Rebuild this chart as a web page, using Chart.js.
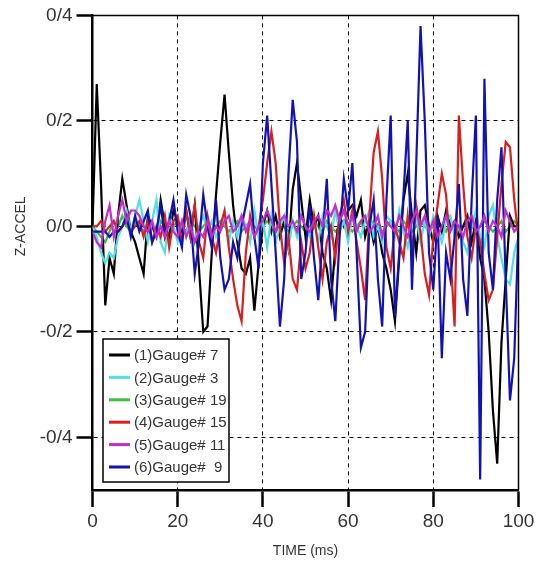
<!DOCTYPE html>
<html><head><meta charset="utf-8">
<script src="https://cdn.jsdelivr.net/npm/chart.js@4/dist/chart.umd.min.js"></script>
<style>html,body{margin:0;padding:0;background:#fff;} #wrap{width:544px;height:564px;}</style>
</head><body><div id="wrap"><canvas id="c" width="544" height="564"></canvas></div>
<script>
const TIME_MS = [0,1,2,3,4,5,6,7,8,9,10,11,12,13,14,15,16,17,18,19,20,21,22,23,24,25,26,27,28,29,30,31,32,33,34,35,36,37,38,39,40,41,42,43,44,45,46,47,48,49,50,51,52,53,54,55,56,57,58,59,60,61,62,63,64,65,66,67,68,69,70,71,72,73,74,75,76,77,78,79,80,81,82,83,84,85,86,87,88,89,90,91,92,93,94,95,96,97,98,99,100];

const SERIES_LABELS = ['(1)Gauge# 7', '(2)Gauge# 3', '(3)Gauge# 19', '(4)Gauge# 15', '(5)Gauge# 11', '(6)Gauge#  9'];

const GAUGE_7 = [0.00,0.27,0.08,-0.15,-0.06,-0.09,0.02,0.09,0.04,-0.01,-0.03,-0.06,-0.09,0.02,0.00,-0.02,0.05,0.00,-0.02,0.03,0.01,-0.01,0.03,-0.02,0.04,-0.08,-0.20,-0.19,-0.05,0.06,0.16,0.25,0.14,0.04,-0.03,-0.08,-0.09,-0.06,-0.16,-0.07,0.00,0.03,-0.01,0.02,-0.02,0.01,-0.04,0.07,0.12,0.05,-0.02,0.05,0.00,0.02,-0.05,-0.08,-0.14,-0.04,0.02,0.00,0.03,0.04,0.02,0.05,-0.02,0.01,-0.03,0.00,-0.05,-0.08,-0.12,-0.18,-0.06,0.05,0.10,0.02,-0.05,0.03,0.04,0.00,-0.03,0.02,-0.01,0.03,0.00,0.01,-0.02,0.00,0.02,-0.03,0.01,-0.06,-0.10,-0.20,-0.35,-0.45,-0.22,-0.10,0.02,0.00,0.00];

const GAUGE_3 = [0.00,-0.02,-0.05,-0.07,-0.05,-0.06,-0.02,0.00,0.03,-0.01,0.02,0.05,0.01,-0.03,0.01,0.05,-0.03,-0.05,0.02,0.00,-0.03,0.01,-0.02,0.02,-0.03,0.00,0.02,-0.01,0.01,-0.02,0.00,0.02,-0.03,0.01,-0.02,0.02,0.00,-0.03,0.03,-0.02,0.01,-0.04,0.02,-0.03,0.00,0.02,-0.04,0.01,-0.02,0.02,0.00,-0.02,0.01,-0.03,0.02,0.00,-0.02,0.03,-0.01,0.01,-0.03,0.02,0.00,-0.02,0.01,0.03,-0.02,0.00,-0.03,0.02,0.01,-0.02,0.03,-0.01,-0.04,0.00,0.02,-0.03,0.01,-0.02,0.02,0.00,-0.03,0.01,0.02,-0.02,0.00,-0.03,-0.05,0.00,0.03,-0.02,-0.04,0.02,0.04,-0.02,-0.06,-0.10,-0.11,-0.05,-0.02];

const GAUGE_19 = [0.00,-0.01,-0.02,-0.03,-0.01,0.01,0.00,0.02,0.00,-0.01,0.01,0.00,-0.01,0.01,0.00,-0.01,0.01,0.00,-0.01,0.00,0.01,0.00,-0.01,0.01,0.00,-0.01,0.00,0.01,-0.01,0.00,0.01,0.00,-0.01,0.00,0.01,-0.01,0.00,0.01,0.00,-0.01,0.00,0.01,0.00,-0.01,0.01,0.00,-0.01,0.00,0.01,0.00,-0.01,0.00,0.01,0.00,-0.01,0.01,0.00,-0.01,0.00,0.01,0.00,-0.01,0.00,0.01,-0.01,0.00,0.01,0.00,-0.01,0.00,0.01,0.00,-0.01,0.01,0.00,-0.01,0.00,0.01,0.00,-0.01,0.00,0.01,0.00,-0.01,0.01,0.00,-0.01,0.00,0.01,0.00,-0.01,0.00,0.01,0.00,-0.01,0.00,0.01,-0.01,0.00,0.01,0.00];

const GAUGE_15 = [0.00,0.00,0.01,-0.01,0.00,0.01,-0.01,0.00,0.01,-0.01,0.00,0.01,-0.02,0.01,-0.03,0.00,-0.02,0.02,-0.04,0.01,0.02,-0.03,0.03,-0.02,0.04,-0.03,-0.06,0.02,-0.02,-0.05,0.00,0.03,-0.04,-0.10,-0.15,-0.18,-0.05,0.02,-0.02,0.00,0.05,0.12,0.18,0.12,0.00,-0.07,-0.02,-0.10,-0.12,-0.03,-0.08,-0.05,0.02,-0.04,-0.10,-0.03,0.00,-0.06,0.02,0.05,-0.01,0.03,-0.03,-0.08,-0.14,0.02,0.14,0.18,0.09,-0.04,-0.08,0.00,-0.03,-0.06,0.02,-0.05,0.04,-0.01,-0.09,-0.13,-0.02,0.04,0.10,0.06,-0.05,-0.19,0.21,0.08,-0.02,-0.06,0.00,-0.03,-0.09,-0.14,-0.12,-0.02,0.08,0.16,0.15,0.05,-0.02];

const GAUGE_11 = [-0.01,-0.03,-0.04,0.01,0.04,-0.02,0.02,0.05,0.01,0.03,0.03,0.02,0.00,-0.01,0.01,-0.02,0.00,-0.02,0.01,-0.01,-0.02,0.01,-0.02,0.00,-0.03,-0.01,-0.02,0.01,-0.02,0.00,-0.01,0.01,0.02,-0.01,0.00,0.02,-0.01,0.01,-0.02,0.00,0.01,0.03,0.01,-0.01,0.01,0.02,0.00,0.01,-0.01,0.02,0.00,-0.01,0.01,0.02,0.00,0.03,0.02,0.04,0.01,0.03,0.00,0.02,-0.01,0.01,0.02,-0.01,0.00,0.02,-0.02,0.01,0.00,-0.01,0.02,0.00,-0.02,0.01,0.03,0.00,0.02,-0.01,0.01,-0.02,0.00,0.02,-0.01,0.01,0.00,-0.02,0.01,0.02,-0.01,0.00,0.02,-0.01,0.01,0.00,-0.02,0.03,0.01,-0.01,0.00];

const GAUGE_9 = [-0.01,-0.01,-0.01,-0.01,-0.02,-0.01,-0.01,0.00,0.02,-0.02,0.02,-0.01,0.01,0.03,-0.03,-0.01,0.04,-0.02,0.01,0.05,-0.01,-0.04,0.06,0.02,-0.09,-0.03,0.06,0.00,-0.04,0.05,-0.06,-0.12,-0.10,-0.03,-0.06,0.00,0.04,0.08,-0.02,-0.08,0.12,0.21,0.08,-0.05,-0.19,-0.10,0.10,0.24,0.16,-0.10,-0.05,0.04,-0.06,-0.14,-0.02,0.09,-0.10,-0.18,-0.02,0.09,0.03,0.12,-0.05,-0.23,-0.20,0.00,0.05,-0.10,-0.19,0.05,0.21,-0.17,-0.05,0.06,0.20,-0.12,0.12,0.38,0.20,-0.05,-0.12,0.02,-0.25,-0.05,-0.10,-0.02,0.08,-0.10,-0.17,0.05,0.21,-0.48,0.28,-0.05,-0.12,0.05,0.15,-0.10,-0.33,-0.25,0.00];

const SERIES_VALUES = [GAUGE_7, GAUGE_3, GAUGE_19, GAUGE_15, GAUGE_11, GAUGE_9];
const SERIES_COLORS = ['#000000', '#4fe0e4', '#3cbf3c', '#d81e1e', '#c42ccc', '#1212b4'];
const SERIES_ORDER = [4, 3, 5, 2, 0, 1];

const X_TICKS = [0, 20, 40, 60, 80, 100];
const X_TICK_LABELS = ['0', '20', '40', '60', '80', '100'];
const Y_TICKS = [-0.4, -0.2, 0, 0.2, 0.4];
const Y_TICK_LABELS = ['-0/4', '-0/2', '0/0', '0/2', '0/4'];
const X_TITLE = 'TIME (ms)';
const Y_TITLE = 'Z-ACCEL';

const FONT = '"Liberation Sans", Arial, sans-serif';

const datasets = SERIES_VALUES.map((vals, i) => ({
  label: SERIES_LABELS[i],
  data: vals.map((v, j) => ({x: TIME_MS[j], y: v})),
  borderColor: SERIES_COLORS[i],
  backgroundColor: SERIES_COLORS[i],
  borderWidth: 2.2,
  pointRadius: 0,
  tension: 0,
  fill: false,
  order: SERIES_ORDER[i]
}));

const framePlugin = {
  id: 'frame',
  afterDraw(chart) {
    const {ctx, chartArea: a} = chart;
    ctx.save();
    ctx.strokeStyle = '#000';
    ctx.lineWidth = 1.5;
    ctx.beginPath();
    ctx.moveTo(a.left, a.top);
    ctx.lineTo(a.right, a.top);
    ctx.lineTo(a.right, a.bottom);
    ctx.stroke();
    // y-axis title, centred on the 0 level as in the reference
    const yScale = chart.scales.y;
    ctx.translate(21, yScale.getPixelForValue(0));
    ctx.rotate(-Math.PI / 2);
    ctx.fillStyle = '#333';
    ctx.font = '14px ' + FONT;
    ctx.textAlign = 'center';
    ctx.textBaseline = 'middle';
    ctx.fillText(Y_TITLE, 0, 0);
    ctx.restore();
  }
};

const legendPlugin = {
  id: 'innerLegend',
  afterDraw(chart) {
    const ctx = chart.ctx;
    const x0 = 103, y0 = 339, w = 126, h = 143;
    ctx.save();
    ctx.fillStyle = '#fff';
    ctx.fillRect(x0, y0, w, h);
    ctx.strokeStyle = '#000';
    ctx.lineWidth = 1.5;
    ctx.strokeRect(x0, y0, w, h);
    ctx.font = '15px ' + FONT;
    ctx.textBaseline = 'middle';
    chart.data.datasets.forEach((ds, i) => {
      const y = y0 + 16 + i * 22.4;
      ctx.strokeStyle = ds.borderColor;
      ctx.lineWidth = 3;
      ctx.beginPath();
      ctx.moveTo(x0 + 6, y);
      ctx.lineTo(x0 + 27, y);
      ctx.stroke();
      ctx.fillStyle = '#333';
      ctx.fillText(ds.label, x0 + 31, y + 1);
    });
    ctx.restore();
  }
};

new Chart(document.getElementById('c'), {
  type: 'line',
  data: {datasets},
  options: {
    responsive: false,
    devicePixelRatio: 1,
    animation: false,
    layout: {padding: {left: 0, right: 25.5, top: 15, bottom: 0}},
    plugins: {legend: {display: false}, tooltip: {enabled: false}},
    scales: {
      x: {
        type: 'linear', min: 0, max: 100,
        afterBuildTicks(scale) { scale.ticks = X_TICKS.map(v => ({value: v})); },
        afterFit(scale) { scale.height = 74; },
        ticks: {
          color: '#333', padding: 3,
          font: {size: 19, family: FONT},
          maxRotation: 0, autoSkip: false,
          callback: (v) => X_TICK_LABELS[X_TICKS.indexOf(v)]
        },
        grid: {color: '#000', lineWidth: 1, tickLength: 17, tickWidth: 2.5, tickColor: '#000'},
        border: {display: true, color: '#000', width: 2.5, dash: [4, 4]},
        title: {display: true, text: X_TITLE, color: '#333',
          font: {size: 14, family: FONT},
          padding: {top: 0, bottom: 4}}
      },
      y: {
        type: 'linear', min: -0.5, max: 0.4,
        afterBuildTicks(scale) { scale.ticks = Y_TICKS.map(v => ({value: v})); },
        afterFit(scale) { scale.width = 92.5; },
        ticks: {
          color: '#333', padding: 4,
          font: {size: 19, family: FONT},
          autoSkip: false,
          callback: (v) => Y_TICK_LABELS[Y_TICKS.indexOf(v)]
        },
        grid: {color: '#000', lineWidth: 1, tickLength: 16, tickWidth: 2.5, tickColor: '#000'},
        border: {display: true, color: '#000', width: 2.5, dash: [4, 4]},
        title: {display: false}
      }
    }
  },
  plugins: [framePlugin, legendPlugin]
});
</script>
</body></html>
